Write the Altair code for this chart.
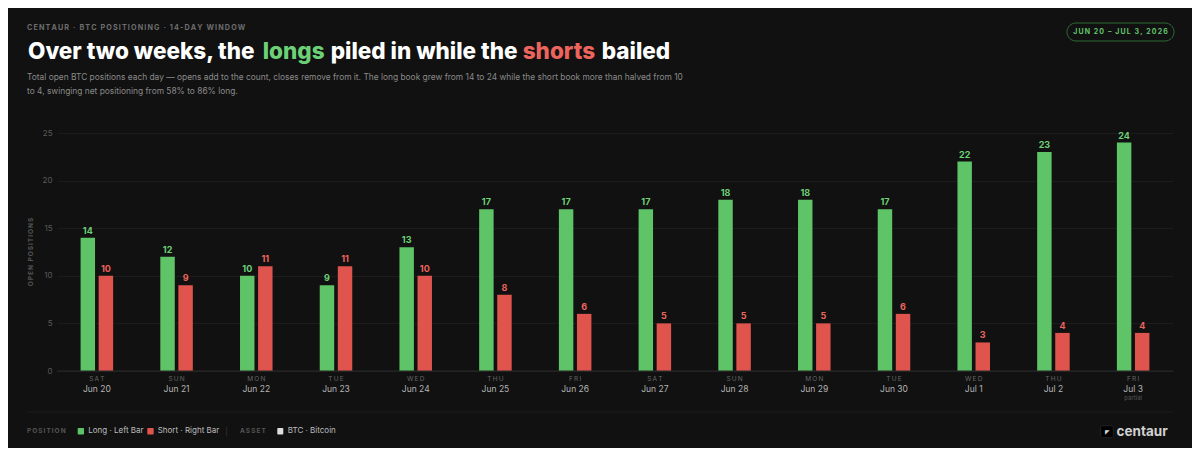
import altair as alt
import pandas as pd

# ---------------- data ----------------
days = ["Jun 20", "Jun 21", "Jun 22", "Jun 23", "Jun 24", "Jun 25", "Jun 26",
        "Jun 27", "Jun 28", "Jun 29", "Jun 30", "Jul 1", "Jul 2", "Jul 3"]
dows = ["SAT", "SUN", "MON", "TUE", "WED", "THU", "FRI",
        "SAT", "SUN", "MON", "TUE", "WED", "THU", "FRI"]
notes = ["", "", "", "", "", "", "", "", "", "", "", "", "", "partial"]
longs = [14, 12, 10, 9, 13, 17, 17, 17, 18, 18, 17, 22, 23, 24]
shorts = [10, 9, 11, 11, 10, 8, 6, 5, 5, 5, 6, 3, 4, 4]
sides = ["Long", "Short"]
y_ticks = [0, 5, 10, 15, 20, 25]

kicker = "CENTAUR · BTC POSITIONING · 14-DAY WINDOW"
title_parts = ["Over two weeks, the", "longs", "piled in while the", "shorts", "bailed"]
subtitle = [
    "Total open BTC positions each day — opens add to the count, closes remove from it. "
    "The long book grew from 14 to 24 while the short book more than halved from 10",
    "to 4, swinging net positioning from 58% to 86% long.",
]
badge = "JUN 20 – JUL 3, 2026"
y_title = "OPEN POSITIONS"
legend_items = ["POSITION", "Long · Left Bar", "Short · Right Bar", "ASSET", "BTC · Bitcoin"]
brand = "centaur"

rows = []
for d, w, n, l, s in zip(days, dows, notes, longs, shorts):
    rows.append({"day": d, "dow": w, "note": n, "side": "Long", "count": l})
    rows.append({"day": d, "dow": w, "note": n, "side": "Short", "count": s})
df = pd.DataFrame(rows)
days_df = pd.DataFrame({"day": days, "dow": dows, "note": notes})

# ---------------- style ----------------
FONT = "Inter"
BG = "#111111"
GREEN = "#5ec467"
RED = "#e0544e"
GREEN_T = "#6cd077"
RED_T = "#ec645e"
W, H = 1116, 238
TS = 22.5  # title size


def spaced(s):
    return "\u2009".join(s)


one = pd.DataFrame({"k": [0]})


def txt(text, x, y, size, color, weight="normal", align="left", baseline="middle", angle=0):
    return alt.Chart(one).mark_text(
        text=text, align=align, baseline=baseline, fontSize=size,
        fontWeight=weight, color=color, angle=angle, font=FONT
    ).encode(x=alt.value(x), y=alt.value(y))


def box(x, x2, y, y2, fill, radius=0, stroke=None):
    kw = dict(color=fill, cornerRadius=radius)
    if stroke:
        kw.update(stroke=stroke, strokeWidth=1)
    return alt.Chart(one).mark_rect(**kw).encode(
        x=alt.value(x), x2=alt.value(x2), y=alt.value(y), y2=alt.value(y2))


def rule(x, x2, y, y2, color):
    return alt.Chart(one).mark_rule(color=color, strokeWidth=1).encode(
        x=alt.value(x), x2=alt.value(x2), y=alt.value(y), y2=alt.value(y2))


x_enc = alt.X("day:N", sort=days, axis=None,
              scale=alt.Scale(paddingInner=0.592, paddingOuter=0.296))
xo_enc = alt.XOffset("side:N", sort=sides, scale=alt.Scale(paddingInner=0.2))
y_enc = alt.Y("count:Q", title=None,
              scale=alt.Scale(domain=[0, 25], nice=False),
              axis=alt.Axis(values=y_ticks, grid=True, gridColor="#1c1c1c", domain=False,
                            ticks=False, labelPadding=5, labelFontSize=8,
                            labelColor="#5a5a5a", labelFont=FONT))

bars = alt.Chart(df).mark_bar().encode(
    x=x_enc, xOffset=xo_enc, y=y_enc,
    color=alt.Color("side:N", sort=sides, legend=None,
                    scale=alt.Scale(domain=sides, range=[GREEN, RED])),
)

base_rule = alt.Chart(one).mark_rule(color="#2a2a2a").encode(
    y=alt.datum(0), x=alt.value(0), x2=alt.value(W))

lab_long = alt.Chart(df).transform_filter(alt.datum.side == "Long").mark_text(
    baseline="alphabetic", dy=-4, fontSize=9, fontWeight="bold", color=GREEN_T, font=FONT
).encode(x=x_enc, xOffset=xo_enc, y=alt.Y("count:Q"), text="count:Q")

lab_short = alt.Chart(df).transform_filter(alt.datum.side == "Short").mark_text(
    baseline="alphabetic", dy=-4, fontSize=9, fontWeight="bold", color=RED_T, font=FONT
).encode(x=x_enc, xOffset=xo_enc, y=alt.Y("count:Q"), text="count:Q")

dow_lab = alt.Chart(days_df).transform_calculate(
    sp="join(split(datum.dow, ''), '\u2009')"
).mark_text(
    baseline="middle", fontSize=6.5, color="#666666", font=FONT
).encode(x=x_enc, y=alt.value(246), text="sp:N")

date_lab = alt.Chart(days_df).mark_text(
    baseline="middle", fontSize=8.5, color="#b4b4b4", font=FONT
).encode(x=x_enc, y=alt.value(255.5), text="day:N")

note_lab = alt.Chart(days_df).transform_filter(alt.datum.note != "").mark_text(
    baseline="middle", fontSize=6, color="#555555", font=FONT
).encode(x=x_enc, y=alt.value(264.5), text="note:N")

# ---------------- header ----------------
tb = -73.7
header = [
    txt(spaced(kicker), -30, -105, 7.2, "#6e6e6e", weight="bold"),
    txt(title_parts[0], -29, tb, TS, "#ffffff", weight=800, baseline="alphabetic"),
    txt(title_parts[1], 205.7, tb, TS, GREEN_T, weight=800, baseline="alphabetic"),
    txt(title_parts[2], 273.7, tb, TS, "#ffffff", weight=800, baseline="alphabetic"),
    txt(title_parts[3], 465.7, tb, TS, RED_T, weight=800, baseline="alphabetic"),
    txt(title_parts[4], 544.7, tb, TS, "#ffffff", weight=800, baseline="alphabetic"),
    txt(subtitle[0], -30, -52.7, 8.4, "#8a8a8a", baseline="alphabetic"),
    txt(subtitle[1], -30, -39.3, 8.4, "#8a8a8a", baseline="alphabetic"),
    box(1010, 1117, -110, -92, BG, radius=9, stroke="#2f6a35"),
    txt(spaced(badge), 1063.5, -101, 7, "#62c56c", weight="bold", align="center"),
    txt(spaced(y_title), -26, 119, 6.5, "#555555", weight="bold", align="center", angle=270),
]

# ---------------- footer ----------------
ly = 298.3
footer = [
    rule(-30, W, 279, 279, "#1c1c1c"),
    txt(spaced(legend_items[0]), -30, ly, 6.5, "#555555", weight="bold"),
    box(20.7, 27, 295, 301.6, GREEN, radius=1),
    txt(legend_items[1], 31.3, ly, 8, "#bdbdbd"),
    box(90.3, 96.7, 295, 301.6, RED, radius=1),
    txt(legend_items[2], 100.7, ly, 8, "#bdbdbd"),
    rule(169.7, 169.7, 294, 303, "#2a2a2a"),
    txt(spaced(legend_items[3]), 183, ly, 6.5, "#555555", weight="bold"),
    box(220.3, 226.3, 295, 301.6, "#dedede", radius=1),
    txt(legend_items[4], 230.7, ly, 8, "#bdbdbd"),
    box(1043.7, 1056.3, 292.7, 304.7, "#000000", radius=2, stroke="#222222"),
    txt("◤", 1050, 298.5, 6, "#d8d8d8", align="center"),
    txt(brand, 1059.5, 298.7, 13.5, "#d2d2d2", weight="bold"),
]

chart = alt.layer(
    bars, base_rule, lab_long, lab_short, dow_lab, date_lab, note_lab, *header, *footer
).properties(
    width=W, height=H,
    padding={"left": 49, "top": 125, "right": 19, "bottom": 77},
    autosize=alt.AutoSizeParams(type="none"),
    background=BG,
).configure(font=FONT).configure_view(stroke=None)

chart.save("out.html", embed_options={"renderer": "svg", "actions": False})
